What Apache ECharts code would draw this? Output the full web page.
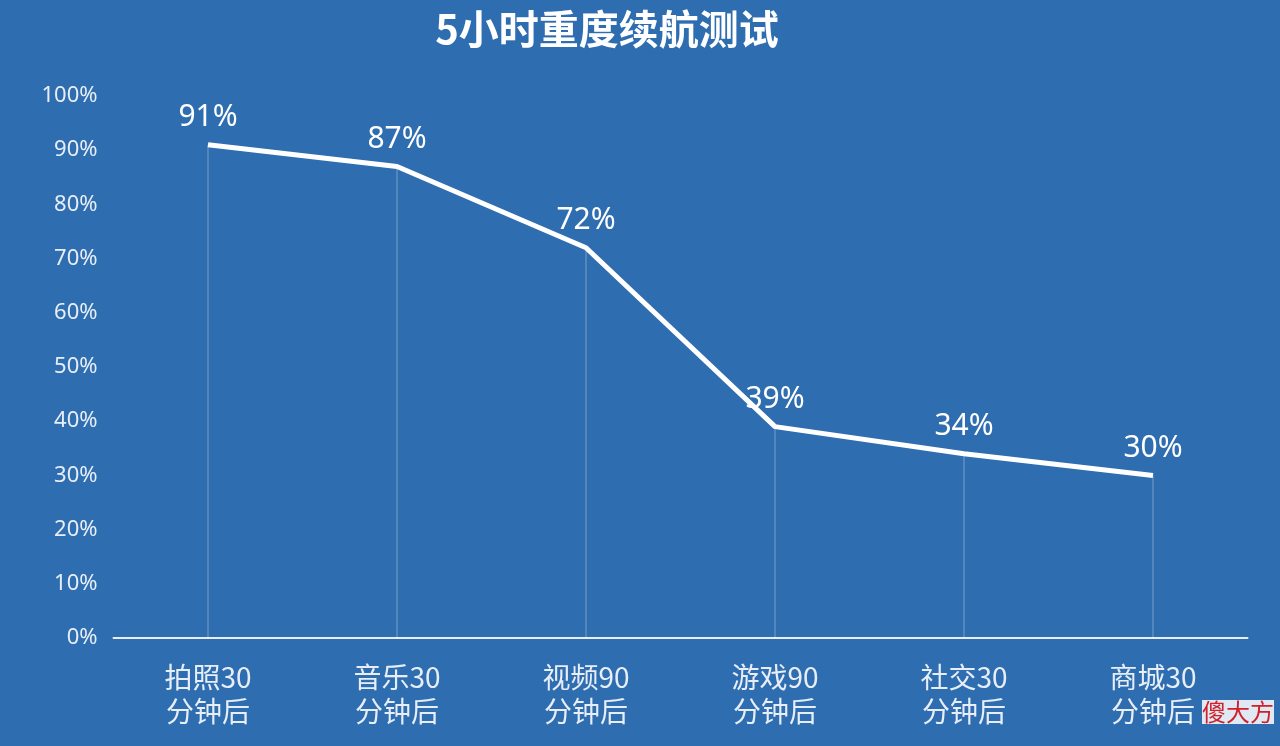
<!DOCTYPE html>
<html><head><meta charset="utf-8">
<script src="https://cdn.jsdelivr.net/npm/echarts@6/dist/echarts.min.js"></script>
<style>html,body{margin:0;padding:0;background:#2e6db0}#c{width:1280px;height:746px}</style>
</head><body><div id="c"></div>
<script>
const categories = ['拍照30\n分钟后','音乐30\n分钟后','视频90\n分钟后','游戏90\n分钟后','社交30\n分钟后','商城30\n分钟后'];
const values = [91, 87, 72, 39, 34, 30];
const chart = echarts.init(document.getElementById('c'));
chart.setOption({
  backgroundColor: '#2e6db0',
  title: {text: '5小时重度续航测试', left: 602, top: 4, textAlign: 'center',
    textStyle: {color: '#fff', fontSize: 40, fontWeight: 'bold', fontFamily: 'Noto Sans CJK SC'}},
  grid: {left: 113.5, right: 32.5, top: 96, bottom: 108},
  xAxis: {type: 'category', data: categories, boundaryGap: true,
    axisLine: {lineStyle: {color: '#e8eef7', width: 2}}, axisTick: {show: false},
    axisLabel: {color: '#e8eef7', fontSize: 28, lineHeight: 34, margin: 22, fontFamily: 'Noto Sans CJK SC'}},
  yAxis: {type: 'value', min: 0, max: 100, interval: 10, splitLine: {show: false},
    axisLabel: {formatter: '{value}%', color: '#e8eef7', fontSize: 22, margin: 16, fontFamily: 'Noto Sans'}},
  series: [
    {type: 'bar', data: values, barWidth: 1, itemStyle: {color: 'rgba(255,255,255,0.35)'}, silent: true,
     label: {show: true, formatter: '{c}%', position: 'top', distance: 12, color: '#fff', fontSize: 30, fontFamily: 'Noto Sans'}, z: 5},
    {type: 'line', data: values, symbol: 'none', lineStyle: {color: '#fff', width: 5}, z: 3}
  ],
  graphic: [{type: 'text', right: 6, bottom: 22, style: {text: '傻大方', fill: '#d0202a', fontSize: 24, fontFamily: 'Noto Sans CJK SC', backgroundColor: 'rgba(255,255,255,0.85)'}}]
});
</script></body></html>
